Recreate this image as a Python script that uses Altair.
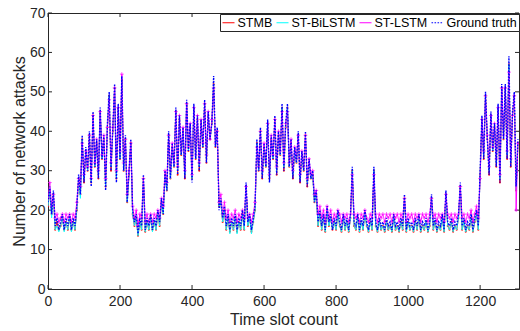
import altair as alt
import pandas as pd

series_names = ["STMB", "ST-BiLSTM", "ST-LSTM", "Ground truth"]
series_colors = ["#ff0000", "#00ffff", "#ff00ff", "#0000ff"]
x_ticks = [0, 200, 400, 600, 800, 1000, 1200]
y_ticks = [0, 10, 20, 30, 40, 50, 60, 70]
step = 5  # time slots between consecutive values

ground_truth = [
    22, 26, 19, 25, 16, 18, 15, 17, 19, 15, 18, 16, 19, 15, 18, 16, 21, 29, 24, 39,
    27, 36, 30, 40, 26, 45, 31, 38, 28, 46, 33, 39, 25, 42, 50, 30, 41, 52, 27, 47,
    33, 54, 30, 39, 22, 30, 38, 20, 17, 19, 14, 18, 16, 29, 15, 18, 16, 19, 15, 18,
    16, 20, 17, 23, 19, 30, 25, 40, 28, 37, 31, 46, 29, 44, 34, 41, 28, 48, 35, 42,
    27, 47, 33, 44, 30, 43, 36, 48, 32, 45, 38, 42, 54, 36, 41, 20, 23, 18, 21, 16,
    19, 15, 18, 16, 19, 15, 18, 16, 20, 16, 27, 17, 19, 15, 18, 21, 38, 30, 41, 28,
    37, 31, 43, 27, 39, 33, 44, 29, 40, 34, 47, 30, 42, 47, 31, 38, 28, 36, 32, 40,
    27, 35, 30, 40, 26, 33, 28, 30, 22, 25, 17, 20, 16, 19, 15, 21, 17, 19, 15, 18,
    16, 20, 17, 15, 19, 16, 18, 15, 19, 31, 17, 16, 19, 15, 18, 16, 20, 17, 15, 18,
    16, 31, 17, 15, 18, 16, 17, 15, 18, 16, 17, 15, 19, 16, 17, 15, 18, 16, 24, 15,
    18, 16, 17, 15, 18, 16, 19, 15, 17, 16, 18, 15, 17, 24, 16, 18, 15, 17, 16, 19,
    15, 25, 17, 16, 18, 15, 17, 16, 19, 27, 16, 18, 15, 17, 16, 19, 15, 18, 20, 16,
    30, 44, 33, 50, 38, 29, 45, 35, 42, 31, 47, 27, 52, 38, 52, 33, 59, 31, 45, 50,
    26, 38,
]

st_lstm = [
    23, 27, 21, 24, 18, 19, 17, 18, 19, 17, 19, 18, 19, 17, 19, 18, 22, 28, 26, 37,
    29, 35, 31, 39, 28, 44, 32, 38, 30, 45, 34, 39, 28, 41, 48, 32, 41, 51, 30, 46,
    35, 54.5, 32, 38, 24, 30, 37, 21, 18, 20, 16, 19, 18, 28, 17, 19, 17, 19, 17, 19,
    18, 20, 18, 23, 21, 30, 27, 39, 30, 37, 32, 45, 31, 44, 35, 41, 30, 47, 36, 42,
    29, 46, 34, 44, 32, 43, 37, 47, 34, 45, 38, 43, 51, 37, 40, 22, 24, 19, 22, 18,
    20, 17, 19, 18, 20, 17, 19, 18, 20, 18, 26, 18, 19, 17, 19, 22, 36, 31, 40, 30,
    37, 32, 42, 29, 39, 34, 43, 31, 40, 35, 45, 32, 42, 45, 32, 38, 30, 36, 33, 39,
    29, 35, 31, 39, 28, 33, 29, 30, 24, 25, 19, 21, 18, 20, 17, 21, 18, 20, 17, 19,
    18, 20, 19, 17, 19, 18, 19, 17, 19, 29, 19, 18, 19, 17, 19, 18, 20, 18, 17, 19,
    18, 29, 19, 17, 19, 18, 19, 17, 19, 18, 19, 17, 19, 18, 19, 17, 19, 18, 23, 17,
    19, 18, 19, 17, 19, 18, 19, 17, 19, 18, 19, 17, 19, 23, 18, 19, 17, 19, 18, 19,
    17, 24, 19, 18, 19, 17, 19, 18, 19, 26, 18, 19, 17, 19, 18, 20, 17, 19, 21, 18,
    28, 43, 35, 49, 39, 31, 44, 36, 42, 33, 46, 29, 51, 39, 51, 35, 55, 33, 44, 49,
    20, 37,
]

stmb = [
    21, 25, 19, 24, 15, 17, 15, 16, 18, 15, 17, 15, 18, 15, 17, 15, 20, 28, 24, 38,
    27, 35, 30, 39, 27, 44, 31, 37, 28, 45, 33, 38, 26, 41, 49, 30, 40, 51, 28, 46,
    33, 53, 30, 38, 22, 29, 37, 19, 16, 18, 13.5, 17, 15, 28, 14.5, 17, 15, 18, 15, 17,
    15, 19, 16, 22, 19, 29, 25, 39, 28, 36, 31, 45, 29, 43, 34, 40, 28, 47, 35, 41,
    28, 46, 33, 43, 30, 42, 36, 47, 32, 44, 38, 42, 52, 36, 40, 21, 22, 17, 20, 15,
    18, 14.5, 17, 15, 18, 14.5, 17, 15, 19, 15, 26, 16, 18, 14.5, 17, 20, 37, 30, 40, 28,
    36, 31, 42, 28, 38, 33, 43, 29, 39, 34, 46, 30, 41, 46, 31, 37, 28, 35, 32, 39,
    27, 34, 30, 39, 26, 32, 28, 29, 22, 24, 16, 19, 15, 18, 14.5, 20, 16, 18, 15, 17,
    15, 19, 16, 14.5, 18, 15, 17, 14.5, 18, 30, 16, 15, 18, 14.5, 17, 15, 19, 16, 14.5, 17,
    15, 30, 16, 14.5, 17, 15, 16, 14.5, 17, 15, 16, 14.5, 18, 15, 16, 14.5, 17, 15, 23, 14.5,
    17, 15, 16, 14.5, 17, 15, 18, 14.5, 16, 15, 17, 14.5, 16, 23, 15, 17, 14.5, 16, 15, 18,
    14.5, 24, 16, 15, 17, 14.5, 16, 15, 18, 26, 15, 17, 14.5, 16, 15, 18, 14.5, 17, 19, 15,
    29, 43, 33, 49, 38, 29, 44, 35, 41, 31, 46, 27, 51, 38, 51, 33, 57, 31, 44, 49,
    25, 37,
]

st_bilstm = [
    21, 25, 18, 24, 15, 16, 14.5, 16, 18, 14.5, 17, 15, 18, 14.5, 17, 15, 20, 28, 23, 38,
    28, 35, 30, 39, 27, 44, 31, 37, 29, 45, 33, 38, 26, 41, 49, 31, 40, 51, 28, 46,
    33, 53, 30, 38, 22, 29, 37, 19, 16, 18, 13.5, 17, 15, 28, 14.5, 17, 15, 18, 14.5, 17,
    15, 19, 16, 22, 19, 29, 25, 39, 28, 36, 31, 45, 30, 43, 34, 40, 29, 47, 35, 41,
    28, 46, 33, 43, 31, 42, 36, 47, 33, 44, 38, 42, 52, 36, 40, 21, 22, 17, 20, 15,
    18, 14, 17, 15, 18, 14, 17, 15, 19, 15, 26, 16, 18, 14, 17, 20, 37, 30, 40, 29,
    36, 31, 42, 28, 38, 33, 43, 30, 39, 34, 46, 31, 41, 46, 31, 37, 29, 35, 32, 39,
    28, 34, 30, 39, 27, 32, 28, 29, 22, 24, 16, 19, 15, 18, 14.5, 20, 16, 18, 15, 17,
    15, 19, 16, 14.5, 18, 15, 17, 14.5, 18, 30, 16, 15, 18, 14.5, 17, 15, 19, 16, 14.5, 17,
    15, 30, 16, 14.5, 17, 15, 16, 14.5, 17, 15, 16, 14.5, 18, 15, 16, 14.5, 17, 15, 23, 14.5,
    17, 15, 16, 14.5, 17, 15, 18, 14.5, 16, 15, 17, 14.5, 16, 23, 15, 17, 14.5, 16, 15, 18,
    14.5, 24, 16, 15, 17, 14.5, 16, 15, 18, 26, 15, 17, 14.5, 16, 15, 18, 14.5, 17, 19, 15,
    29, 43, 34, 49, 38, 30, 44, 35, 41, 32, 46, 28, 51, 38, 51, 34, 57, 32, 44, 49,
    25, 37,
]

rows = []
for name, vals in zip(series_names, [stmb, st_bilstm, st_lstm, ground_truth]):
    for i, v in enumerate(vals):
        rows.append({"t": i * step, "v": v, "series": name})
df = pd.DataFrame(rows)

FONT = "Liberation Sans"
TXT = "#262626"
W, H = 471, 276

xscale = alt.Scale(domain=[0, 1308], nice=False, zero=False)
yscale = alt.Scale(domain=[0, 70], nice=False)

legend = alt.Legend(
    title=None, orient="none", legendX=172, legendY=1, direction="horizontal",
    symbolType="stroke", symbolSize=144, symbolStrokeWidth=1.2,
    symbolDash={"expr": "datum.value === 'Ground truth' ? [1.6, 1.4] : [1, 0]"},
    labelFont=FONT, labelFontSize=12.5, labelColor="#000000",
    labelOffset=2, columnPadding=1, padding=1.5,
    strokeColor=TXT, fillColor="white", labelLimit=200,
)
color = alt.Color("series:N", scale=alt.Scale(domain=series_names, range=series_colors),
                  legend=legend)
dash = alt.StrokeDash(
    "series:N",
    scale=alt.Scale(domain=series_names, range=[[1, 0], [1, 0], [1, 0], [1.6, 1.4]]),
    legend=None,
)

xaxis = alt.Axis(
    values=x_ticks, format="d", tickSize=0, labelFlush=False, labelPadding=5,
    labelOverlap=False, labelFont=FONT, labelFontSize=14, labelColor=TXT,
    title="Time slot count", titleFont=FONT, titleFontSize=16,
    titleFontWeight="normal", titleColor=TXT, titlePadding=3,
    domainColor=TXT, grid=False,
)
yaxis = alt.Axis(
    values=y_ticks, format="d", tickSize=0, labelPadding=3,
    labelOverlap=False, labelFont=FONT, labelFontSize=14, labelColor=TXT,
    title="Number of network attacks", titleFont=FONT, titleFontSize=16,
    titleFontWeight="normal", titleColor=TXT, titlePadding=2,
    domainColor=TXT, grid=False,
)

X = alt.X("t:Q", scale=xscale, axis=xaxis)
Y = alt.Y("v:Q", scale=yscale, axis=yaxis)

widths = {"STMB": 1.0, "ST-BiLSTM": 1.0, "ST-LSTM": 1.0, "Ground truth": 1.4}
layers = []
for name in series_names:
    base = alt.Chart(df).transform_filter(alt.datum.series == name)
    layers.append(
        base.mark_line(strokeWidth=widths[name], clip=True)
        .encode(x=X, y=Y, color=color, strokeDash=dash)
    )
    if name == "STMB":
        layers.append(base.mark_point(shape="circle", size=4, filled=True, opacity=0.9,
                                      clip=True)
                      .encode(x=X, y=Y, color=alt.value("#ff0000")))
    if name == "ST-LSTM":
        layers.append(base.mark_point(shape="M-1,0L1,0M0,-1L0,1", size=14,
                                      strokeWidth=1, clip=True)
                      .encode(x=X, y=Y, color=alt.value("#ff00ff")))

xt = pd.DataFrame({"t": x_ticks})
yt = pd.DataFrame({"v": y_ticks})
tick_bottom = alt.Chart(xt).mark_rule(color=TXT, strokeWidth=1).encode(
    x=alt.X("t:Q", scale=xscale, axis=xaxis), y=alt.value(H), y2=alt.value(H - 4))
tick_top = alt.Chart(xt).mark_rule(color=TXT, strokeWidth=1).encode(
    x=alt.X("t:Q", scale=xscale, axis=xaxis), y=alt.value(0), y2=alt.value(4))
tick_left = alt.Chart(yt).mark_rule(color=TXT, strokeWidth=1).encode(
    y=alt.Y("v:Q", scale=yscale, axis=yaxis), x=alt.value(0), x2=alt.value(4))
tick_right = alt.Chart(yt).mark_rule(color=TXT, strokeWidth=1).encode(
    y=alt.Y("v:Q", scale=yscale, axis=yaxis), x=alt.value(W), x2=alt.value(W - 4))

chart = (
    alt.layer(tick_bottom, tick_top, tick_left, tick_right, *layers)
    .properties(
        width=W, height=H,
        autosize=alt.AutoSizeParams(type="none"),
        padding={"left": 48, "top": 13, "right": 1, "bottom": 42},
        background="white",
    )
    .configure_view(stroke=TXT, strokeWidth=1)
)

chart.save("out.html", embed_options={"renderer": "svg", "actions": False})
